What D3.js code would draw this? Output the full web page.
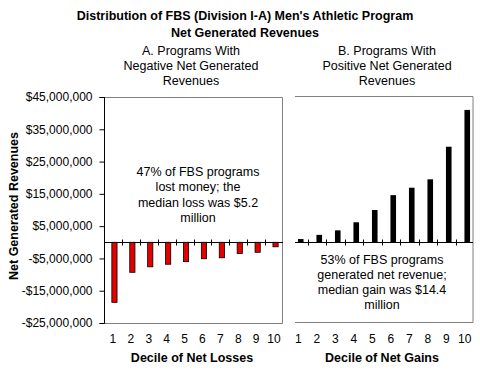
<!DOCTYPE html>
<html>
<head>
<meta charset="utf-8">
<script src="https://cdn.jsdelivr.net/npm/d3@7"></script>
<style>
  html, body { margin: 0; padding: 0; background: #fff; }
  svg { display: block; font-family: Arial, "Liberation Sans", sans-serif; }
</style>
</head>
<body>
<svg id="chart" width="480" height="373"></svg>
<script>
// ---- data ----
const deciles = ["1","2","3","4","5","6","7","8","9","10"];
const lossValues = [-18.6e6, -9.3e6, -7.6e6, -6.8e6, -6.0e6, -5.1e6, -4.8e6, -3.5e6, -3.1e6, -1.4e6];
const gainValues = [1.0e6, 2.3e6, 3.7e6, 6.2e6, 10.0e6, 14.6e6, 16.9e6, 19.5e6, 29.6e6, 41.0e6];
const yTickValues = [45e6, 35e6, 25e6, 15e6, 5e6, -5e6, -15e6, -25e6];
const yTickLabels = ["$45,000,000","$35,000,000","$25,000,000","$15,000,000","$5,000,000","-$5,000,000","-$15,000,000","-$25,000,000"];
const titleLines = ["Distribution of FBS (Division I-A) Men's Athletic Program", "Net Generated Revenues"];
const subtitleA = ["A. Programs With", "Negative Net Generated", "Revenues"];
const subtitleB = ["B. Programs With", "Positive Net Generated", "Revenues"];
const noteA = ["47% of FBS programs", "lost money; the", "median loss was $5.2", "million"];
const noteB = ["53% of FBS programs", "generated net revenue;", "median gain was $14.4", "million"];
const yAxisTitle = "Net Generated Revenues";
const xTitleA = "Decile of Net Losses";
const xTitleB = "Decile of Net Gains";

// ---- layout ----
const svg = d3.select("#chart");
const yTop = 97, yBottom = 323;
const y = d3.scaleLinear().domain([45e6, -25e6]).range([yTop, yBottom]);
const xL = d3.scaleBand().domain(deciles).range([104, 283]).padding(0);
const xR = d3.scaleBand().domain(deciles).range([289, 474]).padding(0);
const y0 = y(0);

// ---- titles ----
const title = svg.append("g").attr("font-weight", "bold").attr("font-size", 12.5).attr("text-anchor", "middle").attr("fill", "#000");
titleLines.forEach((t, i) => title.append("text").attr("x", 245).attr("y", 19.5 + i * 17).text(t));

function lines(arr, cx, y0b, dy, opts) {
  const g = svg.append("g").attr("text-anchor", "middle").attr("font-size", opts.size).attr("fill", "#000");
  if (opts.bold) g.attr("font-weight", "bold");
  arr.forEach((t, i) => g.append("text").attr("x", cx).attr("y", y0b + i * dy).text(t));
}
lines(subtitleA, 191, 54.5, 15, {size: 12.5});
lines(subtitleB, 387, 54.5, 15, {size: 12.5});

// ---- left panel frame ----
const frame = svg.append("g").attr("fill", "none").attr("stroke", "#808080").attr("stroke-width", 1);
frame.append("path").attr("d", `M${xL.range()[0]},${yTop + 0.5}H${xL.range()[1] - 0.5}V${yBottom + 0.5}H${xL.range()[0]}`);
// right panel frame (no left edge)
frame.append("path").attr("d", `M295,${yTop - 0.5}H${xR.range()[1] - 1}V${yBottom - 0.5}H295`);

// ---- left y axis ----
const yAxis = d3.axisLeft(y).tickValues(yTickValues).tickSize(5).tickPadding(7)
  .tickFormat((d, i) => yTickLabels[i]);
const ya = svg.append("g").attr("transform", `translate(${xL.range()[0] + 0.5},0)`).call(yAxis);
ya.select(".domain").attr("stroke", "#000").attr("d", `M-5,${yTop + 0.5}H0V${yBottom + 0.5}H-5`);
ya.selectAll(".tick line").attr("stroke", "#000");
ya.selectAll(".tick text").attr("font-size", 12).attr("font-family", "Arial, 'Liberation Sans', sans-serif").attr("fill", "#000");

// y axis title
svg.append("text")
  .attr("transform", `translate(17.5,${(yTop + yBottom) / 2 - 4}) rotate(-90)`)
  .attr("text-anchor", "middle").attr("font-weight", "bold").attr("font-size", 12.5).attr("fill", "#000")
  .text(yAxisTitle);

// ---- bars ----
const barW = 5.2;
svg.append("g").selectAll("rect").data(lossValues).join("rect")
  .attr("x", (d, i) => xL(deciles[i]) + xL.bandwidth() / 2 + 1.5 - barW / 2)
  .attr("y", d => y(Math.max(0, d)))
  .attr("width", barW)
  .attr("height", d => Math.abs(y(d) - y(0)))
  .attr("fill", "#e50000").attr("stroke", "#000").attr("stroke-width", 0.8);

svg.append("g").selectAll("rect").data(gainValues).join("rect")
  .attr("x", (d, i) => xR(deciles[i]) + xR.bandwidth() / 2 + 2.5 - 5.6 / 2)
  .attr("y", d => y(Math.max(0, d)))
  .attr("width", 5.6)
  .attr("height", d => Math.abs(y(d) - y(0)))
  .attr("fill", "#000");

// ---- zero lines with cross ticks at category boundaries ----
function zeroAxis(xs, startX, endX) {
  const g = svg.append("g").attr("stroke", "#000").attr("stroke-width", 1);
  g.append("line").attr("x1", startX).attr("x2", endX).attr("y1", Math.round(y0) + 0.5).attr("y2", Math.round(y0) + 0.5);
  g.selectAll("line.tk").data(deciles.slice(1)).join("line").attr("class", "tk")
    .attr("x1", d => Math.round(xs(d)) + 0.5).attr("x2", d => Math.round(xs(d)) + 0.5)
    .attr("y1", Math.round(y0) - 2.5).attr("y2", Math.round(y0) + 3.5);
}
zeroAxis(xL, xL.range()[0], xL.range()[1]);
zeroAxis(xR, 295, xR.range()[1] - 1);

// ---- x category labels ----
function catLabels(xs) {
  svg.append("g").attr("font-size", 12).attr("text-anchor", "middle").attr("fill", "#000")
    .selectAll("text").data(deciles).join("text")
    .attr("x", d => xs(d) + xs.bandwidth() / 2)
    .attr("y", 342.5)
    .text(d => d);
}
catLabels(xL);
catLabels(xR);

// x axis titles
lines([xTitleA], 192, 361.5, 0, {size: 12.5, bold: true});
lines([xTitleB], 382, 361.5, 0, {size: 12.5, bold: true});

// ---- annotations ----
lines(noteA, 198, 176, 15.3, {size: 12.5});
lines(noteB, 382, 263.5, 15.3, {size: 12.5});
</script>
</body>
</html>
